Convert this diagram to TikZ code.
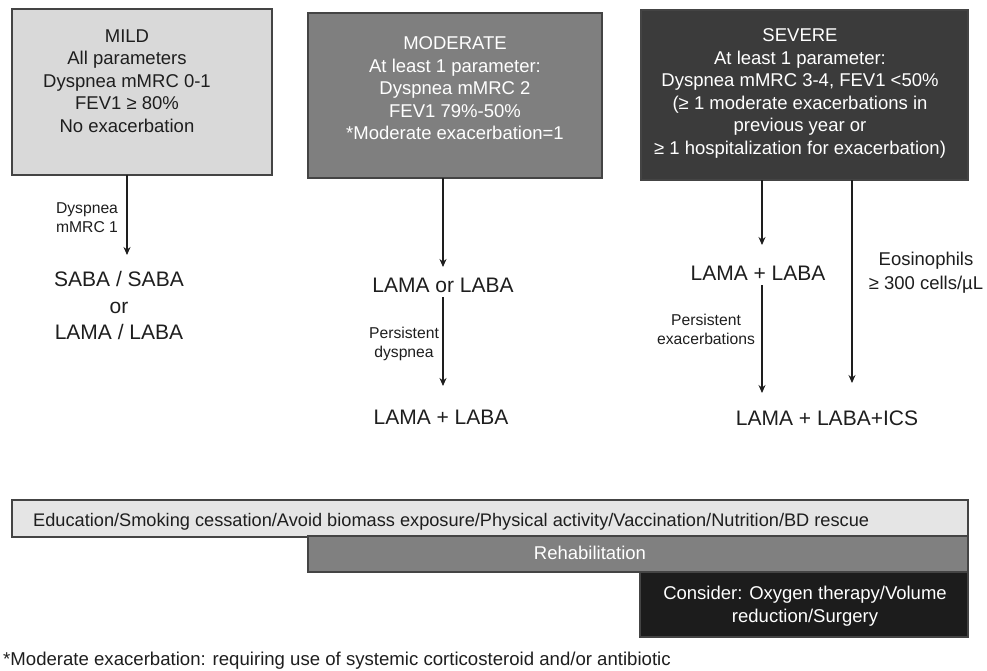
\documentclass[tikz,border=0pt]{standalone}
\usepackage{fontspec}
\setmainfont{Liberation Sans}
\usetikzlibrary{arrows.meta}
\definecolor{mildfill}{HTML}{D9D9D9}
\definecolor{modfill}{HTML}{7F7F7F}
\definecolor{sevfill}{HTML}{3B3B3B}
\definecolor{edufill}{HTML}{E5E5E5}
\definecolor{rehabfill}{HTML}{808080}
\definecolor{consfill}{HTML}{1C1C1C}
\definecolor{edge}{HTML}{444444}
\definecolor{ink}{HTML}{1E1E1E}
\begin{document}
\begin{tikzpicture}[x=1pt,y=-1pt,
  panel/.style={draw=edge, line width=1.1pt, inner sep=0pt, outer sep=0pt, anchor=north west},
  boxtxt/.style={inner sep=0pt, align=center, font=\fontsize{18.5}{22.5}\selectfont},
  drug/.style={inner sep=0pt, align=center, text=ink, font=\fontsize{21}{26.5}\selectfont},
  small/.style={inner sep=0pt, align=center, text=ink, font=\fontsize{15.7}{19}\selectfont},
  arr/.style={draw=ink, line width=1.1pt, -{Stealth[length=8pt,width=7pt]}},
  bartxt/.style={inner sep=0pt, font=\fontsize{18.5}{23}\selectfont}]
\useasboundingbox (0,0) rectangle (987,670);

% top boxes
\node[panel, fill=mildfill, minimum width=260pt, minimum height=166pt] (mild) at (12,9) {};
\node[panel, fill=modfill, minimum width=294pt, minimum height=165pt] (mod) at (308,13) {};
\node[panel, fill=sevfill, minimum width=327pt, minimum height=170pt] (sev) at (641,10) {};

\node[boxtxt, text=ink, anchor=north] (mildtxt) at (127,29.4)
  {MILD\\All parameters\\Dyspnea mMRC 0-1\\FEV1 ≥ 80\%\\No exacerbation};
\node[boxtxt, text=white, anchor=north] (modtxt) at (455,36.4)
  {MODERATE\\At least 1 parameter:\\Dyspnea mMRC 2\\FEV1 79\%-50\%\\*Moderate exacerbation=1};
\node[boxtxt, text=white, anchor=north] (sevtxt) at (800,28.4)
  {SEVERE\\At least 1 parameter:\\Dyspnea mMRC 3-4, FEV1 <50\%\\(≥ 1 moderate exacerbations in\\previous year or\\≥ 1 hospitalization for exacerbation)};

% treatments
\node[drug, anchor=north] (saba) at (119,271.5) {SABA / SABA\\or\\LAMA / LABA};
\node[drug, anchor=base] (lamaor) at (443,292.5) {LAMA or LABA};
\node[drug, anchor=base] (lamaplus) at (441,424.5) {LAMA + LABA};
\node[drug, anchor=base] (sevlama) at (758,280.5) {LAMA + LABA};
\node[drug, anchor=base] (triple) at (827,425.5) {LAMA + LABA+ICS};

% connector labels
\node[small, anchor=north] (lblmild) at (87,202.4) {Dyspnea\\mMRC 1};
\node[small, anchor=north] (lblmod) at (404,327.4) {Persistent\\dyspnea};
\node[small, anchor=north] (lblsev) at (706,313.8) {Persistent\\exacerbations};
\node[boxtxt, text=ink, anchor=north, font=\fontsize{18.5}{24}\selectfont] (lbleos) at (926,251.4) {Eosinophils\\≥ 300 cells/µL};

% connector end points
\coordinate (m1a) at (127,175);
\coordinate (m1b) at (127,255);
\coordinate (d1a) at (443,178);
\coordinate (d1b) at (443,267);
\coordinate (d2a) at (443,297);
\coordinate (d2b) at (443,386);
\coordinate (s1a) at (762,180);
\coordinate (s1b) at (762,245);
\coordinate (s2a) at (762,285);
\coordinate (s2b) at (762,393);
\coordinate (s3a) at (852,180);
\coordinate (s3b) at (852,383);

\draw[arr] (m1a) -- (m1b);
\draw[arr] (d1a) -- (d1b);
\draw[arr] (d2a) -- (d2b);
\draw[arr] (s1a) -- (s1b);
\draw[arr] (s2a) -- (s2b);
\draw[arr] (s3a) -- (s3b);

% bottom bars
\node[panel, fill=edufill, minimum width=956pt, minimum height=37pt] (edu) at (12,500) {};
\node[panel, fill=rehabfill, minimum width=660pt, minimum height=36pt] (rehab) at (308,536) {};
\node[panel, fill=consfill, minimum width=328pt, minimum height=65pt] (cons) at (640,572) {};

\node[bartxt, text=ink, anchor=base west, font=\fontsize{18.2}{22}\selectfont] (edutxt) at (33,526)
  {Education/Smoking cessation/Avoid biomass exposure/Physical activity/Vaccination/Nutrition/BD rescue};
\node[bartxt, text=white, anchor=base] (rehabtxt) at (590,559.6) {Rehabilitation};
\node[bartxt, text=white, anchor=north, align=center] (constxt) at (805,585.4)
  {Consider: Oxygen therapy/Volume\\reduction/Surgery};

% footnote
\node[bartxt, text=ink, anchor=base west, font=\fontsize{18.6}{23}\selectfont] (foot) at (3,665)
  {*Moderate exacerbation: requiring use of systemic corticosteroid and/or antibiotic};
\end{tikzpicture}
\end{document}
